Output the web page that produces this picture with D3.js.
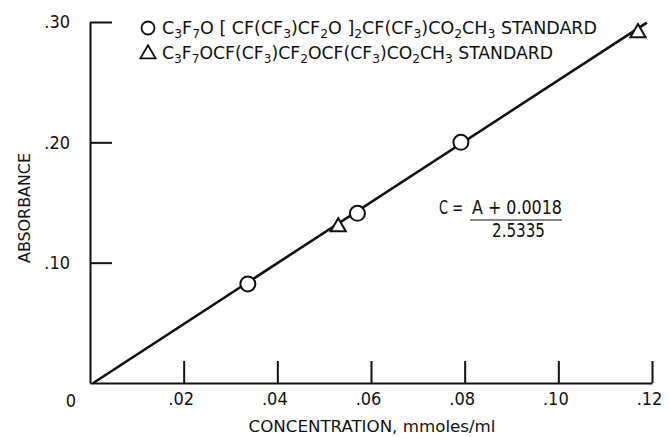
<!DOCTYPE html>
<html>
<head>
<meta charset="utf-8">
<script src="https://cdn.jsdelivr.net/npm/d3@7"></script>
<style>
  body { margin: 0; background: #fff; }
  text { font-family: "DejaVu Sans Condensed", "DejaVu Sans", sans-serif; font-stretch: condensed; fill: #111; }
</style>
</head>
<body>
<div id="chart"></div>
<script>
// values
var circleC = [0.0337, 0.0571, 0.0792],
    circleA = [0.0823, 0.141, 0.200];
var triC = [0.0530, 0.117],
    triA = [0.1297, 0.291];
var lineC = [0.0007, 0.1189],
    lineA = [0, 0.2995];
var xTicks = [0.02, 0.04, 0.06, 0.08, 0.10, 0.12],
    yTicks = [0.10, 0.20, 0.30];
var legendLabels = ["C_3F_7O [ CF(CF_3)CF_2O ]_2CF(CF_3)CO_2CH_3 STANDARD",
                    "C_3F_7OCF(CF_3)CF_2OCF(CF_3)CO_2CH_3 STANDARD"];
var eqLeft = "C =", eqTop = "A + 0.0018", eqBottom = "2.5335";
var xTitle = "CONCENTRATION, mmoles/ml", yTitle = "ABSORBANCE";

var width = 669, height = 437;
var svg = d3.select("#chart").append("svg")
    .attr("width", width)
    .attr("height", height);

var x = d3.scaleLinear().domain([0, 0.12]).range([90, 652]);
var y = d3.scaleLinear().domain([0, 0.30]).range([383, 22]);

var fmt = function(d) { return d3.format(".2f")(d).replace(/^0/, ""); };

// axes, ticks pointing inward
var xAxis = d3.axisBottom(x).tickValues(xTicks).tickSizeInner(-22).tickSizeOuter(0)
    .tickPadding(9).tickFormat(fmt);
var gx = svg.append("g").attr("transform", "translate(0," + y(0) + ")").call(xAxis);
gx.selectAll("text").attr("font-size", 18).attr("dx", -3).attr("fill", "#111");

var yAxis = d3.axisLeft(y).tickValues(yTicks).tickSizeInner(-22).tickSizeOuter(0)
    .tickPadding(20).tickFormat(fmt);
var gy = svg.append("g").attr("transform", "translate(" + x(0) + ",0)").call(yAxis);
gy.selectAll("text").attr("font-size", 18).attr("fill", "#111");

svg.selectAll(".domain, .tick line").attr("stroke", "#111").attr("stroke-width", 2);

svg.append("text")
    .attr("x", x(0) - 19)
    .attr("y", y(0) + 24)
    .attr("text-anchor", "middle")
    .attr("font-size", 18)
    .text("0");

// axis titles
svg.append("text")
    .attr("x", 372)
    .attr("y", 432)
    .attr("text-anchor", "middle")
    .attr("font-size", 16)
    .attr("textLength", 247)
    .attr("lengthAdjust", "spacingAndGlyphs")
    .text(xTitle);

svg.append("text")
    .attr("transform", "translate(30,208) rotate(-90)")
    .attr("text-anchor", "middle")
    .attr("font-size", 16)
    .attr("textLength", 110)
    .attr("lengthAdjust", "spacingAndGlyphs")
    .text(yTitle);

// fitted line
svg.append("line")
    .attr("x1", x(lineC[0])).attr("y1", y(lineA[0]))
    .attr("x2", x(lineC[1])).attr("y2", y(lineA[1]))
    .attr("stroke", "#111")
    .attr("stroke-width", 2.6);

// markers
var tri = d3.symbol().type(d3.symbolTriangle).size(100);

svg.selectAll(".pt-c")
    .data(d3.range(circleC.length))
    .enter().append("circle")
    .attr("cx", i => x(circleC[i]))
    .attr("cy", i => y(circleA[i]))
    .attr("r", 7.5)
    .attr("fill", "#fff")
    .attr("stroke", "#111")
    .attr("stroke-width", 2);

svg.selectAll(".pt-t")
    .data(d3.range(triC.length))
    .enter().append("path")
    .attr("d", tri)
    .attr("transform", i => "translate(" + x(triC[i]) + "," + y(triA[i]) + ")")
    .attr("fill", "#fff")
    .attr("stroke", "#111")
    .attr("stroke-width", 2);

// legend
var legendY = [28, 53],
    legendW = [435, 391];
function addFormula(sel, str) {
    var parts = str.split(/_(\d)/), shifted = false;
    parts.forEach(function(p, k) {
        if (p === "") return;
        var ts = sel.append("tspan").text(p);
        if (k % 2 === 1) {
            ts.attr("dy", 4).attr("font-size", 12);
            shifted = true;
        } else if (shifted) {
            ts.attr("dy", -4);
            shifted = false;
        }
    });
}
legendLabels.forEach(function(lbl, i) {
    if (i === 0) {
        svg.append("circle")
            .attr("cx", 148).attr("cy", legendY[i]).attr("r", 6.5)
            .attr("fill", "#fff").attr("stroke", "#111").attr("stroke-width", 1.8);
    } else {
        svg.append("path")
            .attr("d", tri)
            .attr("transform", "translate(148," + (legendY[i] + 1) + ")")
            .attr("fill", "#fff").attr("stroke", "#111").attr("stroke-width", 1.8);
    }
    var t = svg.append("text")
        .attr("x", 162)
        .attr("y", legendY[i] + 6)
        .attr("font-size", 17)
        .attr("textLength", legendW[i])
        .attr("lengthAdjust", "spacingAndGlyphs");
    addFormula(t, lbl);
});

// equation
svg.append("text").attr("x", 439).attr("y", 214).attr("font-size", 19)
    .attr("textLength", 24).attr("lengthAdjust", "spacingAndGlyphs").text(eqLeft);
svg.append("text").attr("x", 472).attr("y", 214).attr("font-size", 19)
    .attr("textLength", 90).attr("lengthAdjust", "spacingAndGlyphs").text(eqTop);
svg.append("line")
    .attr("x1", 470).attr("x2", 562).attr("y1", 220).attr("y2", 220)
    .attr("stroke", "#111").attr("stroke-width", 1.2);
svg.append("text").attr("x", 492).attr("y", 237).attr("font-size", 19)
    .attr("textLength", 53).attr("lengthAdjust", "spacingAndGlyphs").text(eqBottom);
</script>
</body>
</html>
